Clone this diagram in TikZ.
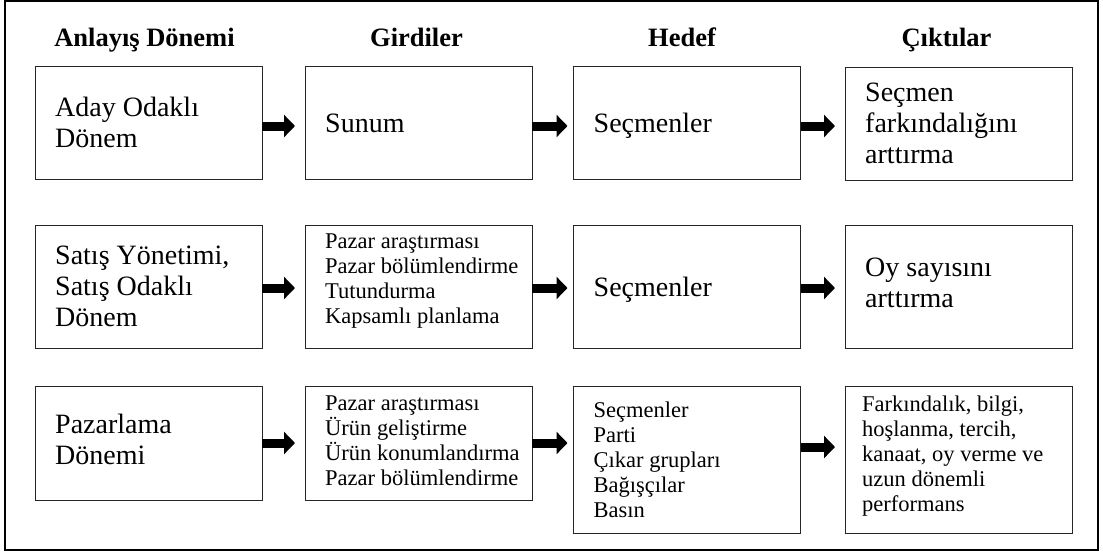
\documentclass[tikz,border=0pt]{standalone}
\usepackage{fontspec}
\setmainfont{Liberation Serif}
\usetikzlibrary{arrows.meta,calc}
\begin{document}
\begin{tikzpicture}[x=1pt,y=-1pt,
  frame/.style={draw=black,line width=1.6pt},
  box/.style={draw=black!85,line width=1pt,minimum width=227pt,inner sep=0pt,outer sep=0pt},
  head/.style={font=\fontsize{26.5}{30}\selectfont\bfseries,anchor=base,inner sep=0pt},
  big/.style={font=\fontsize{28}{31}\selectfont,align=left,inner sep=0pt},
  small/.style={font=\fontsize{22.5}{25}\selectfont,align=left,inner sep=0pt},
  flow/.style={line width=9pt,-{Triangle[length=11pt,width=22pt]}}
]
\useasboundingbox (0,0) rectangle (1103,554);
\fill[white] (0,0) rectangle (1103,554);
% outer frame
\draw[frame] (5,1) rectangle (1098,550);

% row 1
\node[box,minimum height=113pt] (a1) at (148.5,122.5) {};
\node[box,minimum height=113pt] (b1) at (418.5,122.5) {};
\node[box,minimum height=113pt] (c1) at (687,122.5) {};
\node[box,minimum height=113pt] (d1) at (958.5,123.5) {};
% row 2
\node[box,minimum height=123pt] (a2) at (148.5,286.5) {};
\node[box,minimum height=123pt] (b2) at (418.5,286.5) {};
\node[box,minimum height=123pt] (c2) at (687,286.5) {};
\node[box,minimum height=123pt] (d2) at (958.5,286.5) {};
% row 3
\node[box,minimum height=114pt] (a3) at (148.5,443) {};
\node[box,minimum height=114pt] (b3) at (418.5,443) {};
\node[box,minimum height=147pt] (c3) at (687,459.5) {};
\node[box,minimum height=147pt] (d3) at (958.5,459.5) {};

% column headings
\node[head] (h1) at ($(a1.north)+(-4,-20)$) {Anlayış Dönemi};
\node[head] (h2) at ($(b1.north)+(-2,-20)$) {Girdiler};
\node[head] (h3) at ($(c1.north)+(-5,-20)$) {Hedef};
\node[head] (h4) at ($(d1.north)+(-12,-21)$) {Çıktılar};

% box texts
\node[big,anchor=west] (ta1) at ($(a1.west)+(20,0)$) {Aday Odaklı\\Dönem};
\node[big,anchor=base west] (tb1) at ($(b1.west)+(20,9.5)$) {Sunum};
\node[big,anchor=base west] (tc1) at ($(c1.west)+(20,9.5)$) {Seçmenler};
\node[big,anchor=west] (td1) at ($(d1.west)+(20,0)$) {Seçmen\\farkındalığını\\arttırma};

\node[big,anchor=west] (ta2) at ($(a2.west)+(20,0)$) {Satış Yönetimi,\\Satış Odaklı\\Dönem};
\node[small,anchor=north west] (tb2) at ($(b2.north west)+(20,9)$) {Pazar araştırması\\Pazar bölümlendirme\\Tutundurma\\Kapsamlı planlama};
\node[big,anchor=base west] (tc2) at ($(c2.west)+(20,9.5)$) {Seçmenler};
\node[big,anchor=west] (td2) at ($(d2.west)+(20,-4)$) {Oy sayısını\\arttırma};

\node[big,anchor=west] (ta3) at ($(a3.west)+(20,-4)$) {Pazarlama\\Dönemi};
\node[small,anchor=north west] (tb3) at ($(b3.north west)+(20,10)$) {Pazar araştırması\\Ürün geliştirme\\Ürün konumlandırma\\Pazar bölümlendirme};
\node[small,anchor=north west] (tc3) at ($(c3.north west)+(20,16)$) {Seçmenler\\Parti\\Çıkar grupları\\Bağışçılar\\Basın};
\node[small,anchor=north west] (td3) at ($(d3.north west)+(17,10)$) {Farkındalık, bilgi,\\hoşlanma, tercih,\\kanaat, oy verme ve\\uzun dönemli\\performans};

% arrow rows
\coordinate (r1) at (0,126);
\coordinate (r2) at (0,288);
\coordinate (r3) at (0,443);
\coordinate (r3b) at (0,447);

\draw[flow] (a1.east |- r1) -- ($(b1.west |- r1)+(-10,0)$);
\draw[flow] (b1.east |- r1) -- ($(c1.west |- r1)+(-6,0)$);
\draw[flow] (c1.east |- r1) -- ($(d1.west |- r1)+(-10,0)$);

\draw[flow] (a2.east |- r2) -- ($(b2.west |- r2)+(-10,0)$);
\draw[flow] (b2.east |- r2) -- ($(c2.west |- r2)+(-6,0)$);
\draw[flow] (c2.east |- r2) -- ($(d2.west |- r2)+(-10,0)$);

\draw[flow] (a3.east |- r3) -- ($(b3.west |- r3)+(-10,0)$);
\draw[flow] (b3.east |- r3) -- ($(c3.west |- r3)+(-6,0)$);
\draw[flow] (c3.east |- r3b) -- ($(d3.west |- r3b)+(-10,0)$);
\end{tikzpicture}
\end{document}
